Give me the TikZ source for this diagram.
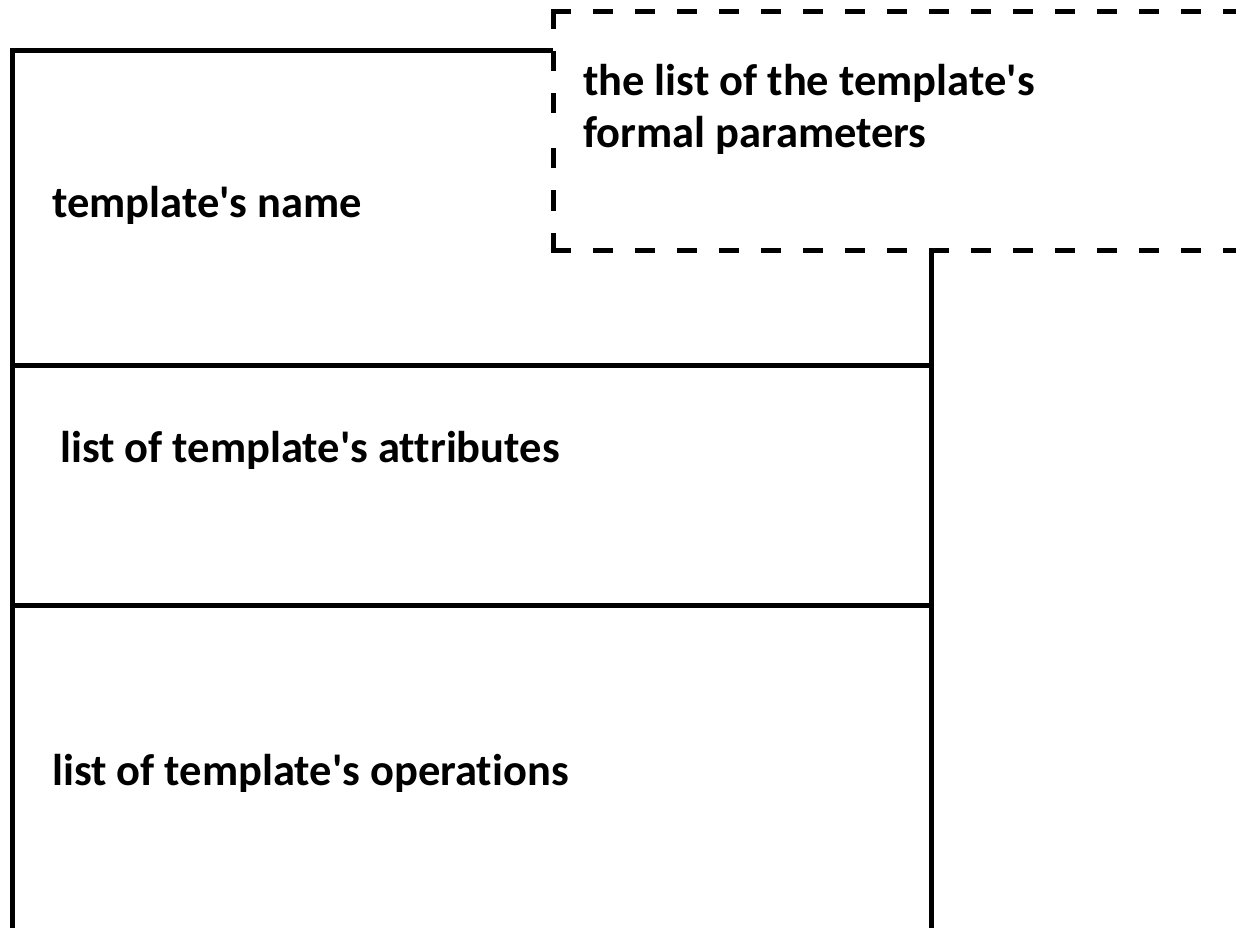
\documentclass[tikz,border=0pt]{standalone}
\usepackage{fontspec}
\setmainfont{Carlito}[Ligatures={NoCommon}]
\newcommand{\apos}{\textquotesingle}
\begin{document}
\begin{tikzpicture}[x=1pt,y=-1pt,
  frame/.style={line width=5pt},
  dashframe/.style={line width=5pt,line cap=rect,dash pattern=on 15pt off 27pt},
  label/.style={anchor=base west,inner sep=0pt,font=\fontsize{44.5}{52}\selectfont\bfseries}]
\useasboundingbox (0,0) rectangle (1236,928);
% class box with three compartments
\draw[frame] (12,51) rectangle (931,930);
\draw[frame] (12,365) -- (931,365);
\draw[frame] (12,605) -- (931,605);
% template parameter box, overlapping the top right corner
\coordinate (tl) at (553,12);
\coordinate (bl) at (553,250);
\coordinate (tr) at (1238,12);
\coordinate (br) at (1238,250);
\coordinate (lm) at (553,131);
\fill[white] (tl) rectangle (br);
\draw[dashframe] (tl) -- (tr);
\draw[dashframe] (bl) -- (br);
\draw[dashframe] (tl) -- (lm);
\draw[dashframe] (bl) -- (lm);
\draw[dashframe] (tr) -- (br);
% texts
\node[label] (params1) at (583,96) {the list of the template\apos s};
\node[label] (params2) at (583,148) {formal parameters};
\node[label] (name) at (52,217) {template\apos s name};
\node[label] (attrs) at (60,462) {list of template\apos s attributes};
\node[label] (ops) at (52,785) {list of template\apos s operations};
\end{tikzpicture}
\end{document}
